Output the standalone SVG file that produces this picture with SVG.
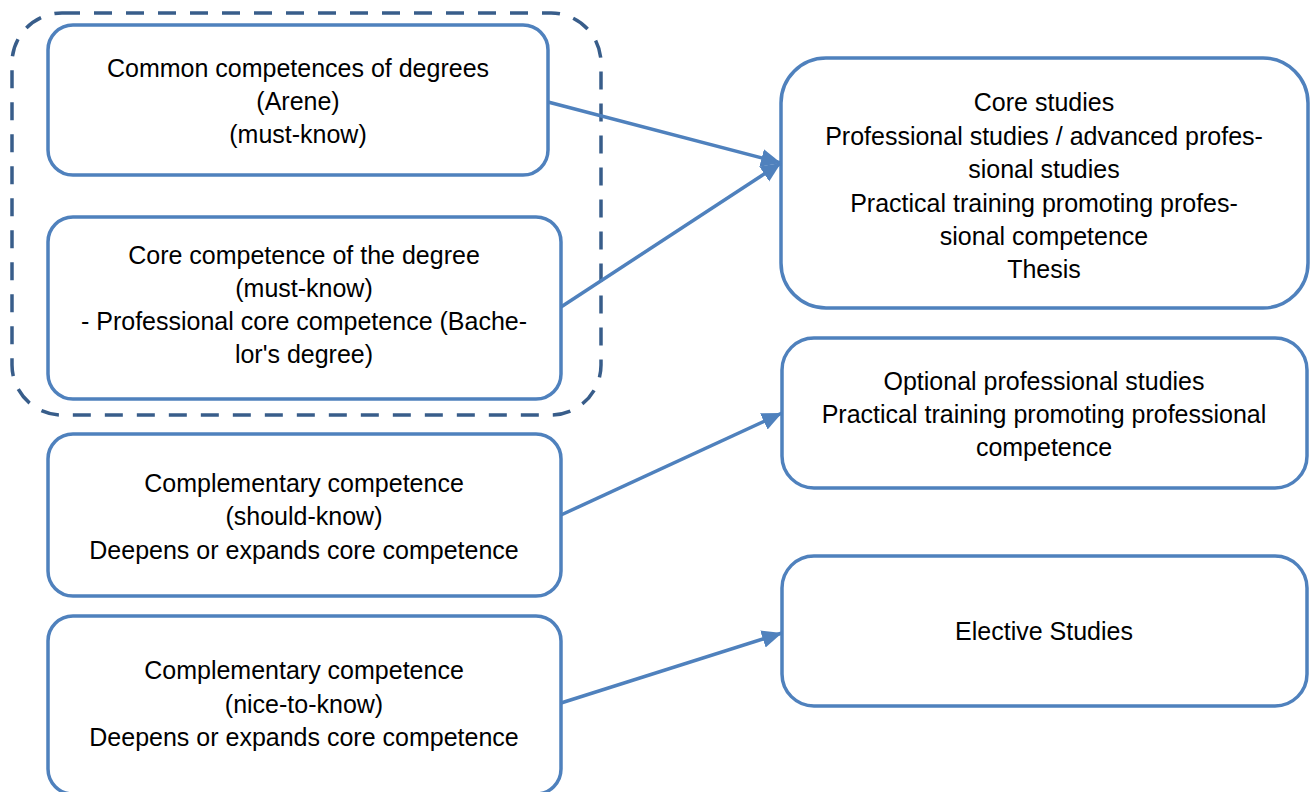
<svg xmlns="http://www.w3.org/2000/svg" width="1314" height="792" viewBox="0 0 1314 792">
<defs>
<style>
.box{fill:#ffffff;stroke:#4F81BD;stroke-width:3.5}
.grp{fill:none;stroke:#385D8A;stroke-width:3.5;stroke-dasharray:18 14}
.conn{fill:none;stroke:#4F81BD;stroke-width:3.5}
text{font-family:"Liberation Sans",Arial,sans-serif;font-size:25px;fill:#000000;text-anchor:middle}
</style>
<marker id="arrow" markerUnits="userSpaceOnUse" markerWidth="22" markerHeight="20" refX="20" refY="9" orient="auto">
<path d="M0,0 L20,9 L0,18 Z" fill="#4F81BD"/>
</marker>
</defs>
<rect width="1314" height="792" fill="#ffffff"/>
<g id="group-must-know">
<rect class="grp" x="12" y="13" width="589" height="402" rx="50" ry="50"/>
</g>
<g id="node-common">
<rect class="box" x="48" y="25" width="500" height="150" rx="25" ry="25"/>
<text x="298" y="77">Common competences of degrees</text>
<text x="298" y="110">(Arene)</text>
<text x="298" y="143">(must-know)</text>
</g>
<g id="node-core-competence">
<rect class="box" x="48" y="217" width="513" height="182" rx="25" ry="25"/>
<text x="304" y="264">Core competence of the degree</text>
<text x="304" y="297">(must-know)</text>
<text x="304" y="330">- Professional core competence (Bache-</text>
<text x="304" y="363">lor's degree)</text>
</g>
<g id="node-should-know">
<rect class="box" x="48" y="434" width="513" height="162" rx="25" ry="25"/>
<text x="304" y="492">Complementary competence</text>
<text x="304" y="525">(should-know)</text>
<text x="304" y="559">Deepens or expands core competence</text>
</g>
<g id="node-nice-to-know">
<rect class="box" x="48" y="616" width="513" height="178" rx="25" ry="25"/>
<text x="304" y="679">Complementary competence</text>
<text x="304" y="713">(nice-to-know)</text>
<text x="304" y="746">Deepens or expands core competence</text>
</g>
<g id="node-core-studies">
<rect class="box" x="781" y="58" width="527" height="250" rx="45" ry="45"/>
<text x="1044" y="111">Core studies</text>
<text x="1044" y="145">Professional studies / advanced profes-</text>
<text x="1044" y="178">sional studies</text>
<text x="1044" y="212">Practical training promoting profes-</text>
<text x="1044" y="245">sional competence</text>
<text x="1044" y="278">Thesis</text>
</g>
<g id="node-optional">
<rect class="box" x="782" y="338" width="525" height="150" rx="32" ry="32"/>
<text x="1044" y="390">Optional professional studies</text>
<text x="1044" y="423">Practical training promoting professional</text>
<text x="1044" y="456">competence</text>
</g>
<g id="node-elective">
<rect class="box" x="782" y="556" width="525" height="150" rx="32" ry="32"/>
<text x="1044" y="640">Elective Studies</text>
</g>
<g id="connectors">
<line class="conn" x1="548" y1="102" x2="781" y2="163" marker-end="url(#arrow)"/>
<line class="conn" x1="561" y1="307" x2="781" y2="163" marker-end="url(#arrow)"/>
<line class="conn" x1="561" y1="515" x2="782" y2="413" marker-end="url(#arrow)"/>
<line class="conn" x1="561" y1="703" x2="782" y2="633" marker-end="url(#arrow)"/>
</g>
</svg>
